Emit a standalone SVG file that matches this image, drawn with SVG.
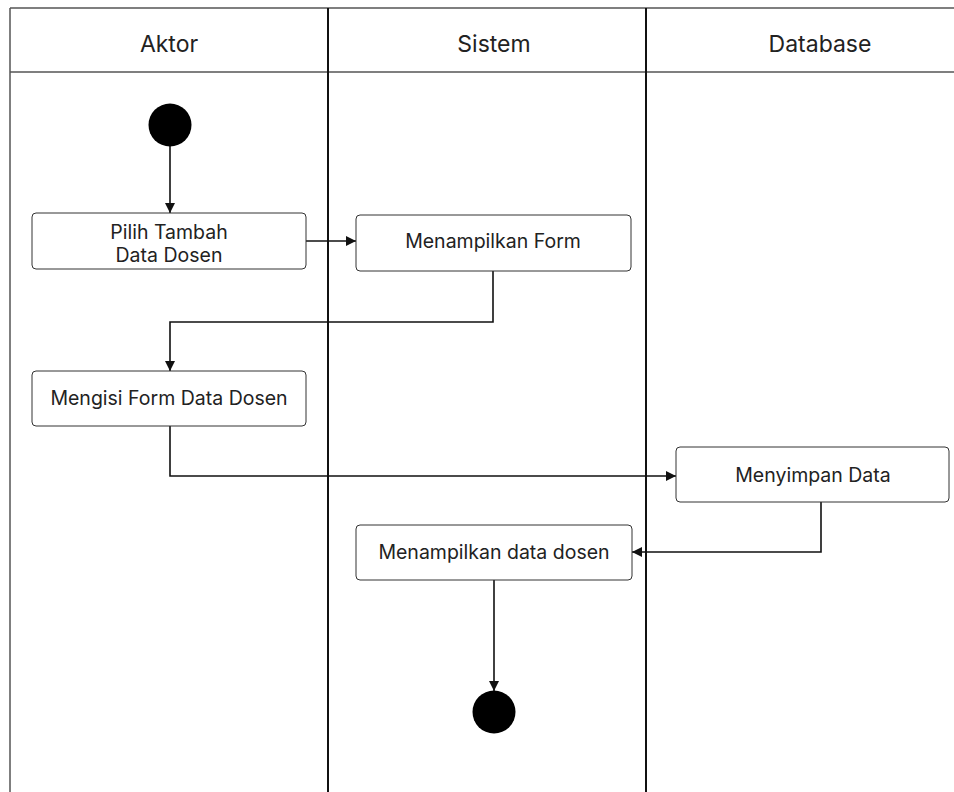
<svg xmlns="http://www.w3.org/2000/svg" width="954" height="792" viewBox="0 0 954 792">
<style>
.frame{stroke:#555;stroke-width:1.5;fill:none}
.lane{stroke:#111;stroke-width:2;fill:none}
.box{fill:#fff;stroke:#333;stroke-width:1}
.hdr{font-family:Inter,"Liberation Sans",sans-serif;font-size:23px;fill:#222;text-anchor:middle}
.lbl{font-family:Inter,"Liberation Sans",sans-serif;font-size:19.5px;fill:#222;text-anchor:middle}
.edge{stroke:#111;stroke-width:1.6;fill:none}
</style>
<defs>
<marker id="arr" viewBox="0 0 10 10" refX="10" refY="5" markerWidth="10" markerHeight="10" markerUnits="userSpaceOnUse" orient="auto">
<path d="M0,0 L10,5 L0,10 Z" fill="#111"/>
</marker>
</defs>
<rect width="954" height="792" fill="#fff"/>
<g id="lanes">
<line class="frame" x1="10" y1="8" x2="954" y2="8"/>
<line class="frame" x1="10" y1="72" x2="954" y2="72"/>
<line class="frame" x1="10" y1="8" x2="10" y2="792"/>
<line class="lane" x1="328" y1="8" x2="328" y2="792"/>
<line class="lane" x1="646" y1="8" x2="646" y2="792"/>
<text class="hdr" x="169" y="52">Aktor</text>
<text class="hdr" x="494" y="52">Sistem</text>
<text class="hdr" x="820" y="52">Database</text>
</g>
<g id="connectors">
<path class="edge" d="M170,146 V213" marker-end="url(#arr)"/>
<path class="edge" d="M306,241 H356" marker-end="url(#arr)"/>
<path class="edge" d="M493,271 V322 H170 V371" marker-end="url(#arr)"/>
<path class="edge" d="M170,426 V476 H676" marker-end="url(#arr)"/>
<path class="edge" d="M821,502 V552 H632" marker-end="url(#arr)"/>
<path class="edge" d="M494,580 V691" marker-end="url(#arr)"/>
</g>
<g id="start"><circle cx="170" cy="125" r="21.5" fill="#000"/></g>
<g id="n1"><rect class="box" x="32" y="213" width="274" height="56" rx="4"/><text class="lbl" x="169" y="239">Pilih Tambah</text><text class="lbl" x="169" y="262">Data Dosen</text></g>
<g id="n2"><rect class="box" x="356" y="215" width="275" height="56" rx="4"/><text class="lbl" x="493" y="248">Menampilkan Form</text></g>
<g id="n3"><rect class="box" x="32" y="371" width="274" height="55" rx="4"/><text class="lbl" x="169" y="405">Mengisi Form Data Dosen</text></g>
<g id="n4"><rect class="box" x="676" y="447" width="273" height="55" rx="4"/><text class="lbl" x="813" y="482">Menyimpan Data</text></g>
<g id="n5"><rect class="box" x="356" y="525" width="276" height="55" rx="4"/><text class="lbl" x="494" y="559">Menampilkan data dosen</text></g>
<g id="end"><circle cx="494" cy="712" r="21.5" fill="#000"/></g>
</svg>
